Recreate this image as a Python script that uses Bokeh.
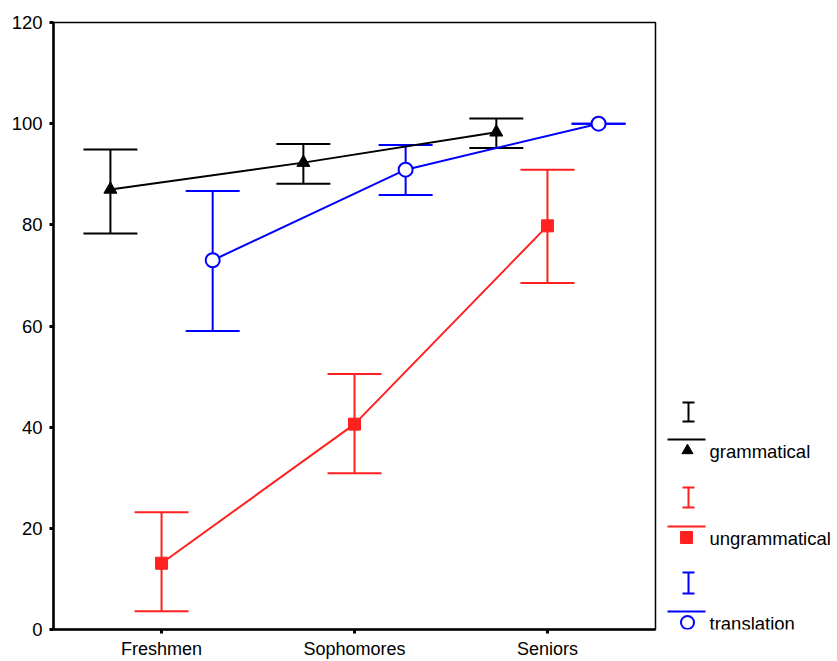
from bokeh.plotting import figure
from bokeh.models import Range1d, FixedTicker, Whisker, TeeHead, ColumnDataSource
from bokeh.layouts import row
from bokeh.embed import file_html
from bokeh.resources import INLINE
from bokeh.core.properties import value

categories = ["Freshmen", "Sophomores", "Seniors"]
series = ["grammatical", "ungrammatical", "translation"]

gram_mean = [87.0, 92.3, 98.3]
gram_lower = [78.3, 88.1, 95.2]
gram_upper = [94.9, 96.0, 101.0]

ungram_mean = [13.1, 40.6, 79.8]
ungram_lower = [3.6, 30.9, 68.5]
ungram_upper = [23.2, 50.5, 90.9]

trans_mean = [73.0, 90.9, 100.0]
trans_lower = [59.0, 85.9, 100.0]
trans_upper = [86.7, 95.8, 100.0]

y_ticks = [0, 20, 40, 60, 80, 100, 120]

FONT = "Liberation Sans"
colors = ["#000000", "#ff2020", "#0000ff"]
offsets = [-0.265, 0.0, 0.265]

H = 661
TOP = 22
BOT = 32

p = figure(width=658, height=H, output_backend="svg", toolbar_location=None,
           x_range=Range1d(0.44, 3.56), y_range=Range1d(0, 120),
           min_border_left=53, min_border_top=TOP, min_border_right=3, min_border_bottom=BOT)
p.grid.visible = False
p.outline_line_color = "black"
p.outline_line_width = 1.5
p.background_fill_color = "white"

base_x = [i + 1 for i in range(len(categories))]

data = [
    (gram_mean, gram_lower, gram_upper),
    (ungram_mean, ungram_lower, ungram_upper),
    (trans_mean, trans_lower, trans_upper),
]

for k, (m, lo, up) in enumerate(data):
    xs = [b + offsets[k] for b in base_x]
    src = ColumnDataSource(dict(x=xs, m=m, lo=lo, up=up))
    w = Whisker(source=src, base="x", lower="lo", upper="up", dimension="height",
                line_color=colors[k], line_width=2,
                upper_head=TeeHead(size=54, line_color=colors[k], line_width=2),
                lower_head=TeeHead(size=54, line_color=colors[k], line_width=2))
    p.add_layout(w)
    p.line("x", "m", source=src, line_color=colors[k], line_width=2)
    if k == 0:
        p.scatter("x", "m", source=src, marker="triangle", size=13, fill_color="black", line_color="black")
    elif k == 1:
        p.scatter("x", "m", source=src, marker="square", size=12, fill_color=colors[k], line_color=colors[k])
    else:
        p.scatter("x", "m", source=src, marker="circle", size=14, fill_color="white", line_color=colors[k], line_width=2)

p.xaxis.ticker = FixedTicker(ticks=base_x)
p.xaxis.major_label_overrides = {b: c for b, c in zip(base_x, categories)}
p.yaxis.ticker = FixedTicker(ticks=y_ticks)
for ax in (p.xaxis, p.yaxis):
    ax.axis_line_width = 2.5
    ax.axis_line_color = "black"
    ax.major_tick_line_width = 3
    ax.major_tick_line_color = "black"
    ax.major_tick_out = 4
    ax.major_tick_in = 0
    ax.minor_tick_line_color = None
    ax.major_label_text_font = FONT
    ax.major_label_text_color = "black"
p.yaxis.major_label_text_font_size = "18.5px"
p.xaxis.major_label_text_font_size = "18px"
p.yaxis.major_label_standoff = 7
p.xaxis.major_label_standoff = 5

# legend panel (same vertical frame as the main plot; y in page pixels)
LW = 179
leg = figure(width=LW, height=H, output_backend="svg", toolbar_location=None,
             x_range=Range1d(0, LW), y_range=Range1d(629, 22),
             min_border_left=0, min_border_right=0, min_border_top=TOP, min_border_bottom=BOT,
             x_axis_location=None, y_axis_location=None)
leg.grid.visible = False
leg.outline_line_color = None

bar_top = [402, 487, 572]
bar_bot = [421, 507, 593]
line_y = [439, 526, 611]
mark_y = [450, 537, 622]
ix = 30
for k in range(3):
    c = colors[k]
    leg.segment(x0=ix, y0=bar_top[k], x1=ix, y1=bar_bot[k], line_color=c, line_width=2)
    leg.segment(x0=ix - 6, y0=bar_top[k], x1=ix + 6, y1=bar_top[k], line_color=c, line_width=2)
    leg.segment(x0=ix - 6, y0=bar_bot[k], x1=ix + 6, y1=bar_bot[k], line_color=c, line_width=2)
    leg.segment(x0=9, y0=line_y[k], x1=47, y1=line_y[k], line_color=c, line_width=2)
    if k == 0:
        leg.scatter(x=[ix - 1], y=[mark_y[k]], marker="triangle", size=11, fill_color="black", line_color="black")
    elif k == 1:
        leg.scatter(x=[ix - 2], y=[mark_y[k]], marker="square", size=12, fill_color=c, line_color=c)
    else:
        leg.scatter(x=[ix - 1], y=[mark_y[k]], marker="circle", size=13, fill_color="white", line_color=c, line_width=2)
    leg.text(x=[51], y=[mark_y[k] + 1], text=[series[k]], text_font=value(FONT), text_font_size="18.5px",
             text_baseline="middle", text_align="left", text_color="black")

layout = row(p, leg, spacing=0)
open("out.html", "w").write(file_html(layout, INLINE))
